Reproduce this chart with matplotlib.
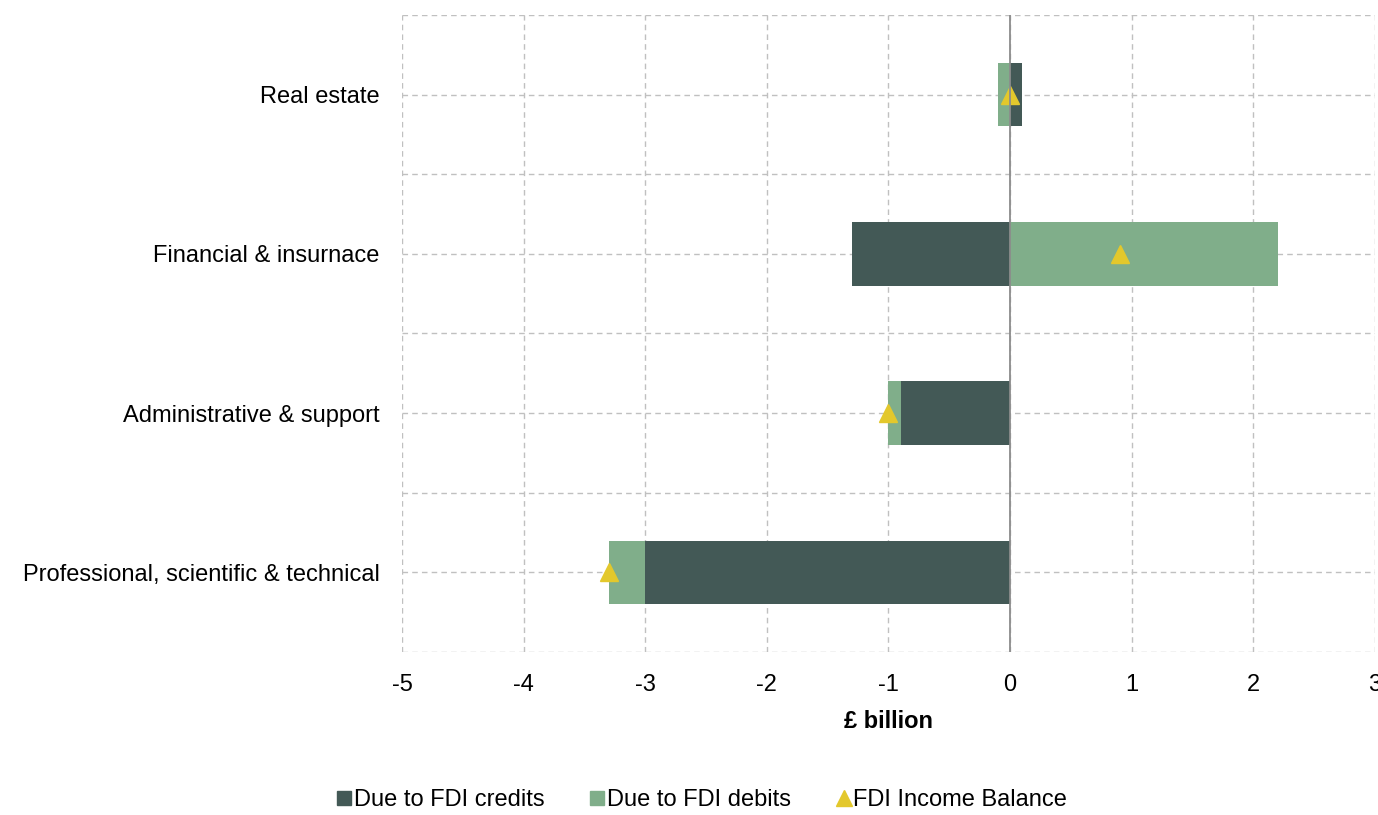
import matplotlib
import numpy as np

matplotlib.use('Agg')

import matplotlib.pyplot as plt
from matplotlib.lines import Line2D

plt.rcParams['font.family'] = ['Liberation Sans', 'DejaVu Sans']

# data (bottom to top)
sectors = ['Professional, scientific & technical', 'Administrative & support',
           'Financial & insurnace', 'Real estate']
credits = [-3.0, -0.9, -1.3, 0.1]
debits = [-0.3, -0.1, 2.2, -0.1]
balance = [-3.3, -1.0, 0.9, 0.0]
xticks = [-5, -4, -3, -2, -1, 0, 1, 2, 3]

dark = '#435956'
light = '#80AE8A'
yellow = '#E3C82C'


def stack_left(first, second):
    # excel-style stacking: positives on positives, negatives on negatives
    left = []
    for a, b in zip(first, second):
        if (a >= 0) == (b >= 0):
            left.append(a)
        else:
            left.append(0)
    return left


def plot_chart():
    fig = plt.figure(figsize=(13.78, 8.15), dpi=100)
    ax = fig.add_axes([0.2917, 0.2, 0.7061, 0.7816])

    y = np.arange(len(sectors))
    ax.barh(y, credits, height=0.4, color=dark, zorder=3)
    ax.barh(y, debits, height=0.4, left=stack_left(credits, debits), color=light, zorder=3)
    ax.plot(balance, y, linestyle='none', marker='^', markersize=13, color=yellow, zorder=4)

    ax.set_xlim(-5, 3)
    ax.set_ylim(-0.5, 3.5)
    ax.set_xticks(xticks)
    ax.set_xticklabels([str(t) for t in xticks], fontsize=17)
    ax.set_yticks(y)
    ax.set_yticklabels(sectors, fontsize=17)
    ax.set_yticks(np.arange(-0.5, 4, 1.0), minor=True)
    ax.tick_params(axis='x', length=0, pad=16)
    ax.tick_params(axis='y', length=0, pad=16)
    ax.tick_params(axis='y', which='minor', length=0)

    for s in ax.spines.values():
        s.set_visible(False)
    ax.grid(True, which='both', color='#C0C0C0', linestyle=(0, (4, 3)), linewidth=1, zorder=0)
    ax.axvline(0, color='#8C8C8C', linewidth=1.3, zorder=5)

    ax.set_xlabel('£ billion', fontsize=17, fontweight='bold', labelpad=10)

    handles = [Line2D([], [], linestyle='none', marker='s', markersize=10, color=dark,
                      label='Due to FDI credits'),
               Line2D([], [], linestyle='none', marker='s', markersize=10, color=light,
                      label='Due to FDI debits'),
               Line2D([], [], linestyle='none', marker='^', markersize=11, color=yellow,
                      label='FDI Income Balance')]
    fig.legend(handles=handles, loc='lower center', bbox_to_anchor=(0.51, -0.018), ncol=3,
               frameon=False, fontsize=17, handlelength=0.5, handletextpad=0.15,
               columnspacing=2.0, borderpad=0.3)

    plt.savefig('out.png')


if __name__ == '__main__':
    plot_chart()
